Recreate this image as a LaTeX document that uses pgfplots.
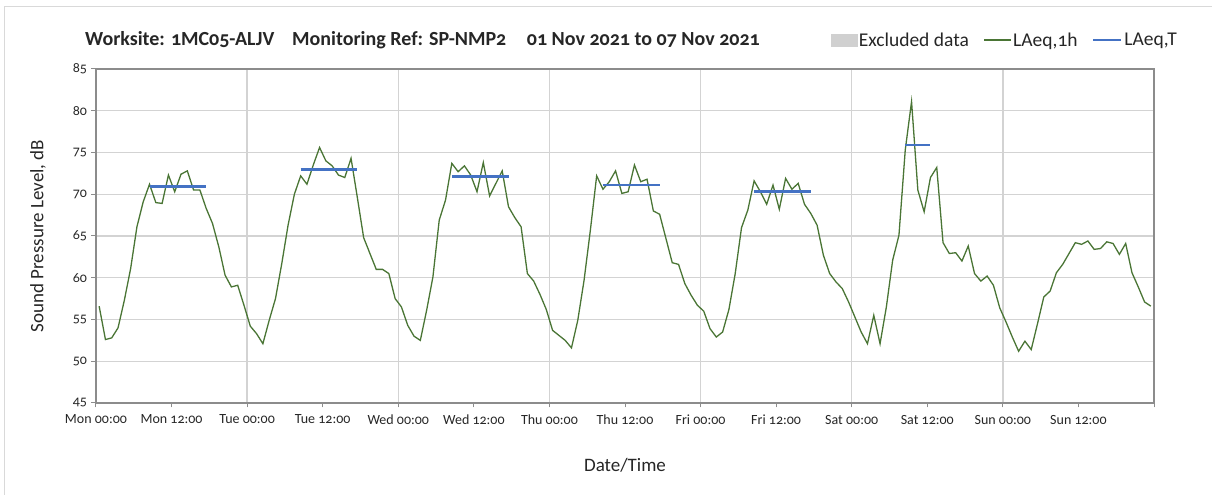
\documentclass[border=0pt]{standalone}
\usepackage{fontspec}
\setmainfont{Carlito}[Numbers=OldStyle]
\usepackage{pgfplots}
\pgfplotsset{compat=1.18}
\definecolor{lgreen}{HTML}{4A7535}
\definecolor{lblue}{HTML}{4472C4}
\definecolor{gridgray}{HTML}{D3D3D3}
\definecolor{axisgray}{HTML}{8C8C8C}
\definecolor{exgray}{HTML}{D0D0D0}
\definecolor{framegray}{HTML}{D9D9D9}
\definecolor{txt}{HTML}{262626}
\begin{document}
\begin{tikzpicture}[x=1bp,y=1bp]
\begin{axis}[
  at={(0,0)}, anchor=south west, scale only axis,
  width=1058bp, height=334bp,
  xmin=0, xmax=168, ymin=45, ymax=85,
  xtick={0,24,...,168},
  xticklabels={Mon 00:00, Tue 00:00, Wed 00:00, Thu 00:00, Fri 00:00, Sat 00:00, Sun 00:00, {}},
  extra x ticks={12,36,...,156},
  extra x tick labels={Mon 12:00, Tue 12:00, Wed 12:00, Thu 12:00, Fri 12:00, Sat 12:00, Sun 12:00},
  extra x tick style={grid=none},
  ytick={45,50,...,85},
  grid=major,
  grid style={draw=gridgray, line width=1.3bp},
  axis line style={draw=axisgray, line width=1.2bp},
  tick style={draw=axisgray, line width=1bp},
  tick align=outside, major tick length=4.5bp, tick pos=left,
  /pgf/number format/assume math mode=true,
  ticklabel style={font=\fontsize{14bp}{16bp}\selectfont, text=txt},
  xticklabel style={yshift=-4bp},
  yticklabel style={xshift=-1bp},
  xlabel={Date/Time}, ylabel={Sound Pressure Level, dB},
  label style={font=\fontsize{19bp}{21bp}\selectfont, text=txt},
  xlabel style={at={(axis description cs:0.5,0)}, anchor=center, yshift=-62bp},
  ylabel style={at={(axis description cs:0,0.5)}, anchor=center, yshift=58bp},
  unbounded coords=jump,
  legend columns=3,
  legend style={at={(axis description cs:0.6944,1.0868)}, anchor=west, draw=none, fill=none,
    inner sep=0pt, font=\fontsize{19.5bp}{21bp}\selectfont, text=txt,
    nodes={inner sep=1.5bp},
    /tikz/every even column/.append style={column sep=13bp}},
]
\addlegendimage{legend image code/.code={\fill[exgray] (0bp,-6bp) rectangle (26bp,6bp);}}
\addlegendentry{Excluded data}
\addplot[color=lgreen, line width=1.3bp, no markers,
  legend image code/.code={\draw[lgreen, line width=1.3bp] (0bp,0bp) -- (27bp,0bp);}] table {
x y
0.5 56.6
1.5 52.6
2.5 52.8
3.5 54.0
4.5 57.3
5.5 61.1
6.5 66.1
7.5 69.1
8.5 71.2
9.5 69.0
10.5 68.9
11.5 72.3
12.5 70.3
13.5 72.4
14.5 72.8
15.5 70.5
16.5 70.5
17.5 68.3
18.5 66.5
19.5 63.7
20.5 60.3
21.5 58.9
22.5 59.1
23.5 56.7
24.5 54.2
25.5 53.3
26.5 52.1
27.5 54.9
28.5 57.5
29.5 61.7
30.5 66.3
31.5 70.0
32.5 72.2
33.5 71.2
34.5 73.5
35.5 75.6
36.5 74.0
37.5 73.4
38.5 72.3
39.5 72.0
40.5 74.3
41.5 69.6
42.5 64.8
43.5 62.9
44.5 61.0
45.5 61.0
46.5 60.5
47.5 57.5
48.5 56.5
49.5 54.3
50.5 53.0
51.5 52.5
52.5 56.1
53.5 60.1
54.5 66.9
55.5 69.3
56.5 73.7
57.5 72.7
58.5 73.4
59.5 72.3
60.5 70.3
61.5 73.8
62.5 69.8
63.5 71.3
64.5 72.8
65.5 68.5
66.5 67.2
67.5 66.1
68.5 60.5
69.5 59.6
70.5 58.0
71.5 56.2
72.5 53.7
73.5 53.1
74.5 52.5
75.5 51.6
76.5 54.9
77.5 59.7
78.5 65.7
79.5 72.2
80.5 70.6
81.5 71.5
82.5 72.8
83.5 70.1
84.5 70.3
85.5 73.5
86.5 71.5
87.5 71.8
88.5 68.0
89.5 67.6
90.5 64.7
91.5 61.8
92.5 61.6
93.5 59.3
94.5 57.9
95.5 56.7
96.5 56.0
97.5 53.9
98.5 52.9
99.5 53.5
100.5 56.2
101.5 60.5
102.5 66.0
103.5 68.1
104.5 71.6
105.5 70.3
106.5 68.8
107.5 71.1
108.5 68.2
109.5 71.9
110.5 70.6
111.5 71.3
112.5 68.8
113.5 67.7
114.5 66.3
115.5 62.7
116.5 60.5
117.5 59.5
118.5 58.7
119.5 57.1
120.5 55.3
121.5 53.5
122.5 52.1
123.5 55.5
124.5 52.1
125.5 56.5
126.5 62.1
127.5 65.1
128.5 75.3
129.5 81.1
130.5 70.5
131.5 67.9
132.5 72.0
133.5 73.2
134.5 64.2
135.5 62.9
136.5 63.0
137.5 62.0
138.5 63.8
139.5 60.5
140.5 59.6
141.5 60.2
142.5 59.1
143.5 56.4
144.5 54.7
145.5 52.9
146.5 51.2
147.5 52.4
148.5 51.4
149.5 54.5
150.5 57.7
151.5 58.4
152.5 60.6
153.5 61.6
154.5 62.9
155.5 64.2
156.5 64.0
157.5 64.4
158.5 63.4
159.5 63.5
160.5 64.3
161.5 64.1
162.5 62.8
163.5 64.1
164.5 60.6
165.5 58.9
166.5 57.1
167.5 56.6
};
\addlegendentry{LAeq,1h}
\addplot[color=lblue, line width=2.7bp, no markers,
  legend image code/.code={\draw[lblue, line width=2.7bp] (0bp,0bp) -- (28bp,0bp);}] table {
x y
8.5 70.9
17.5 70.9
nan nan
32.5 73.0
41.5 73.0
nan nan
56.5 72.1
65.5 72.1
nan nan
80.5 71.1
89.5 71.1
nan nan
104.5 70.3
113.5 70.3
nan nan
128.5 75.9
132.5 75.9
};
\addlegendentry{LAeq,T}
\end{axis}
\node[anchor=west, inner sep=0pt, font=\fontsize{20bp}{22bp}\selectfont\bfseries, text=txt] at (-11,363) {Worksite: 1MC05-ALJV};
\node[anchor=west, inner sep=0pt, font=\fontsize{20bp}{22bp}\selectfont\bfseries, text=txt] at (196,363) {Monitoring Ref: SP-NMP2};
\node[anchor=east, inner sep=0pt, font=\fontsize{20bp}{22bp}\selectfont\bfseries, text=txt] at (664,363) {01 Nov 2021 to 07 Nov 2021};
\draw[color=framegray, line width=1bp] (-91,-92) -- (-91,396) -- (1116,396);
\pgfresetboundingbox
\path[use as bounding box] (-96,-92) rectangle (1116,403);
\end{tikzpicture}
\end{document}
